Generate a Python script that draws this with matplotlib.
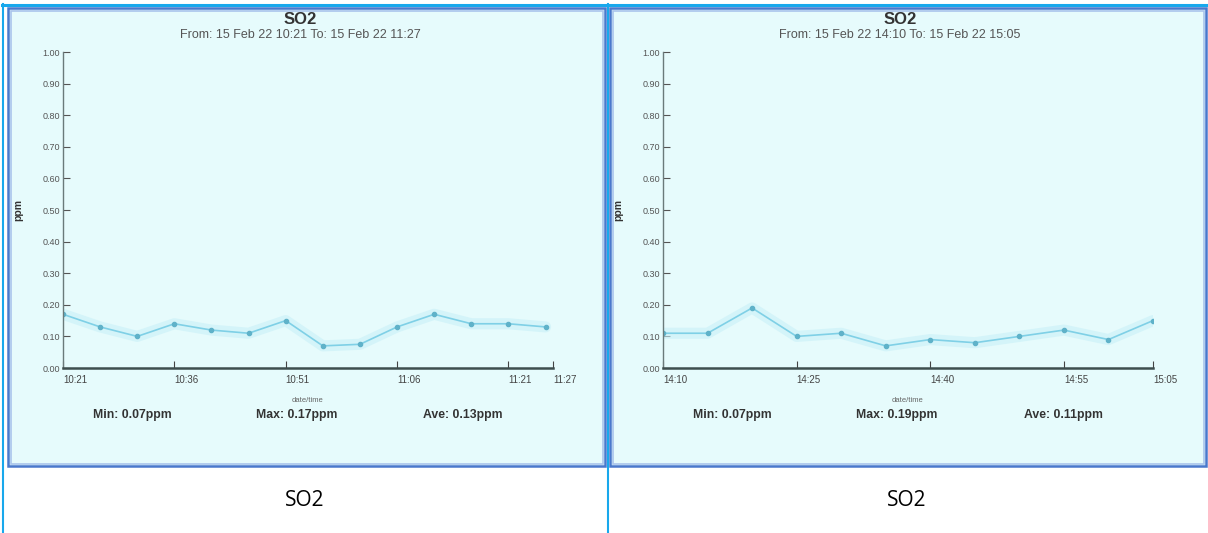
import matplotlib.pyplot as plt
from matplotlib.patches import Rectangle
from matplotlib.lines import Line2D
import numpy as np

# data
left_times = ["10:21", "10:26", "10:31", "10:36", "10:41", "10:46", "10:51",
              "10:56", "11:01", "11:06", "11:11", "11:16", "11:21", "11:26"]
left_so2 = [0.17, 0.13, 0.10, 0.14, 0.12, 0.11, 0.15,
            0.07, 0.075, 0.13, 0.17, 0.14, 0.14, 0.13]
left_ticks = ["10:21", "10:36", "10:51", "11:06", "11:21", "11:27"]
left_range = ("15 Feb 22 10:21", "15 Feb 22 11:27")

right_times = ["14:10", "14:15", "14:20", "14:25", "14:30", "14:35",
               "14:40", "14:45", "14:50", "14:55", "15:00", "15:05"]
right_so2 = [0.11, 0.11, 0.19, 0.10, 0.11, 0.07,
             0.09, 0.08, 0.10, 0.12, 0.09, 0.15]
right_ticks = ["14:10", "14:25", "14:40", "14:55", "15:05"]
right_range = ("15 Feb 22 14:10", "15 Feb 22 15:05")

caption = "SO2"

W, H = 1208, 533
fig = plt.figure(figsize=(W / 100, H / 100), dpi=100)
fig.patch.set_facecolor("white")
plt.rcParams["font.family"] = ["Liberation Sans", "DejaVu Sans"]


def fx(px):
    return px / W


def fy(py):
    return 1 - py / H


def minutes(t):
    h, m = t.split(":")
    return int(h) * 60 + int(m)


def hline(x1, x2, y, color, lw):
    fig.add_artist(Line2D([fx(x1), fx(x2)], [fy(y), fy(y)], color=color, lw=lw,
                          transform=fig.transFigure, zorder=-1))


def vline(x, y1, y2, color, lw):
    fig.add_artist(Line2D([fx(x), fx(x)], [fy(y1), fy(y2)], color=color, lw=lw,
                          transform=fig.transFigure, zorder=-1))


def panel(x0, x1, off, times, vals, ticks, rng):
    # image background + blue frame
    fig.add_artist(Rectangle((fx(x0), fy(466)), (x1 - x0) / W, (466 - 8) / H,
                             transform=fig.transFigure, facecolor="#e6fbfc",
                             edgecolor="#4a78cc", lw=1.8, zorder=-2))
    fig.add_artist(Rectangle((fx(x0 + 2.5), fy(463.5)), (x1 - x0 - 5) / W, (466 - 13) / H,
                             transform=fig.transFigure, facecolor="none",
                             edgecolor="#a9c4ec", lw=1.2, zorder=-2))

    t0 = minutes(times[0])
    span = minutes(ticks[-1]) - t0
    ax_left = off + 63
    ax_right = off + 553
    ax = fig.add_axes([fx(ax_left), fy(368), (ax_right - ax_left) / W, 316 / H])
    ax.set_facecolor("none")
    xs = np.array([minutes(t) - t0 for t in times])
    ax.plot(xs, vals, color="#c8f0f8", lw=8, alpha=0.6, solid_capstyle="round")
    ax.plot(xs, vals, color="#7fd0e6", lw=1.2, marker="o", ms=3,
            mfc="#5fb2c9", mec="#5fb2c9")
    ax.set_xlim(0, span)
    ax.set_ylim(0, 1)
    for s in ["top", "right"]:
        ax.spines[s].set_visible(False)
    ax.spines["left"].set_color("#6a7a7a")
    ax.spines["left"].set_linewidth(1.0)
    ax.spines["bottom"].set_color("#3e4e4e")
    ax.spines["bottom"].set_linewidth(1.8)
    yt = np.arange(0, 1.001, 0.1)
    ax.set_yticks(yt)
    ax.set_yticklabels(["%.2f" % v for v in yt], fontsize=6.5, color="#555")
    ax.set_xticks([minutes(t) - t0 for t in ticks])
    ax.set_xticklabels(ticks, fontsize=7, color="#555", ha="left")
    ax.tick_params(axis="y", direction="in", length=5, width=0.8, colors="#555", pad=2)
    ax.tick_params(axis="x", direction="in", length=5, width=0.8, colors="#444", pad=5)
    ax.set_xlabel("date/time", fontsize=5.5, color="#666", labelpad=9)

    cx = off + 300
    fig.text(fx(cx), fy(20), "SO2", ha="center", va="center", fontsize=12,
             fontweight="bold", color="#333")
    fig.text(fx(cx), fy(35), "From: %s To: %s" % rng, ha="center", va="center",
             fontsize=9, color="#555")
    fig.text(fx(off + 18), fy(210), "ppm", rotation=90, ha="center", va="center",
             fontsize=7.5, fontweight="bold", color="#333")
    stats = [("Min: %.2fppm" % min(vals), 132),
             ("Max: %.2fppm" % max(vals), 297),
             ("Ave: %.2fppm" % np.mean(vals), 463)]
    for txt, px in stats:
        fig.text(fx(off + px), fy(415), txt, ha="center", va="center",
                 fontsize=8.8, fontweight="bold", color="#333")


panel(8, 605, 0, left_times, left_so2, left_ticks, left_range)
panel(610, 1206, 600, right_times, right_so2, right_ticks, right_range)

# table lines
hline(2, W, 5, "#18a8ec", 2.2)
vline(3, 4, H, "#18a8ec", 1.5)
vline(607.5, 4, H, "#18a8ec", 1.5)

fig.text(fx(305), fy(500), caption, ha="center", va="center", fontsize=15,
         color="black", family=["Open Sans", "DejaVu Sans"])
fig.text(fx(907), fy(500), caption, ha="center", va="center", fontsize=15,
         color="black", family=["Open Sans", "DejaVu Sans"])

fig.savefig("out.png", dpi=100)
